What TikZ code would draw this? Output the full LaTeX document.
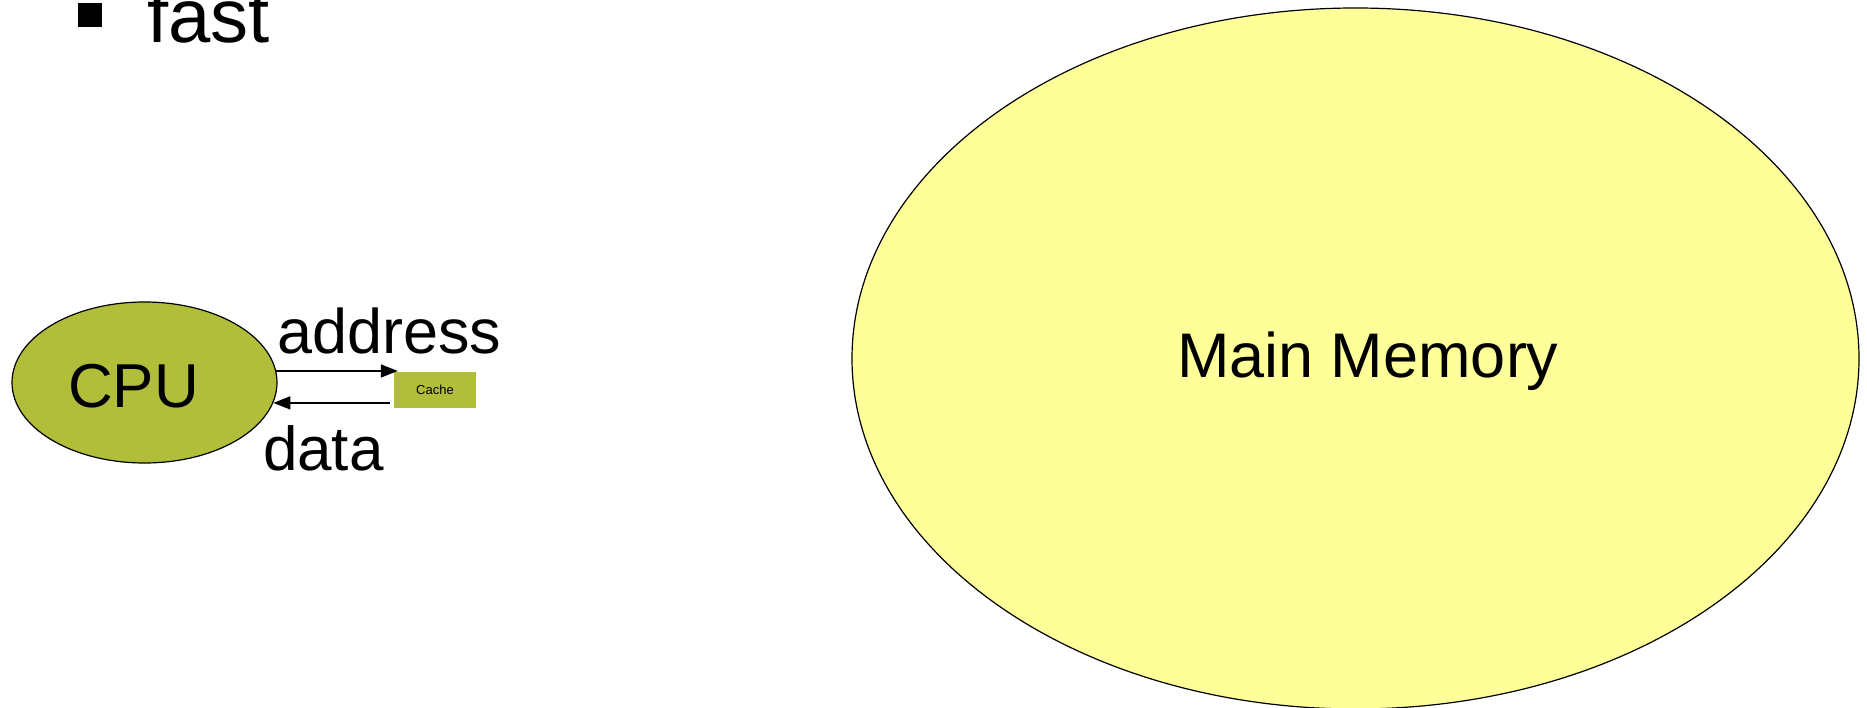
\documentclass[tikz,border=0pt]{standalone}
\usepackage{fontspec}
\setmainfont{Liberation Sans}
\usetikzlibrary{shapes.geometric,arrows.meta}
\definecolor{cpuolive}{RGB}{176,190,58}
\definecolor{memyellow}{RGB}{255,255,153}
\tikzset{
  blob/.style={ellipse, draw=black, line width=1.2pt, inner sep=0pt},
  lbl/.style={anchor=base west, inner sep=0pt, outer sep=0pt,
              font=\fontsize{63}{63}\selectfont},
  lblsmall/.style={lbl, font=\fontsize{62}{62}\selectfont},
  bus/.style={line width=1.5pt, -{Triangle[length=17pt,width=13pt]}}
}
\begin{document}
\begin{tikzpicture}[x=1pt,y=-1pt]
  \useasboundingbox (0,0) rectangle (1867,708);

  % bullet line at the top
  \node[fill=black, minimum size=24pt, inner sep=0pt] (bullet) at (90,15) {};
  \node[lbl, font=\fontsize{76}{76}\selectfont] (fast) at (147,43) {fast};

  % processor and its cache
  \node[blob, fill=cpuolive, minimum width=265pt, minimum height=161pt] (cpu) at (144.5,382.5) {};
  \node[lblsmall] (cputext) at (68,407) {CPU};
  \node[fill=cpuolive, minimum width=82pt, minimum height=36pt, inner sep=0pt,
        font=\fontsize{13}{13}\selectfont] (cache) at (435,390) {Cache};

  % address and data lines
  \draw[bus, shorten >=-4pt] (cpu.5) -- (cpu.5 -| cache.west);
  \draw[bus, shorten <=4pt] (cpu.-9.6 -| cache.west) -- (cpu.-9.6);
  \node[lbl] (addr) at (277,353) {address};
  \node[lblsmall] (data) at (263,470) {data};

  % main memory
  \node[blob, fill=memyellow, minimum width=1007pt, minimum height=701pt] (mem) at (1355.5,358.5) {};
  \node[lbl] (memtext) at (1177,377) {Main Memory};
\end{tikzpicture}
\end{document}
